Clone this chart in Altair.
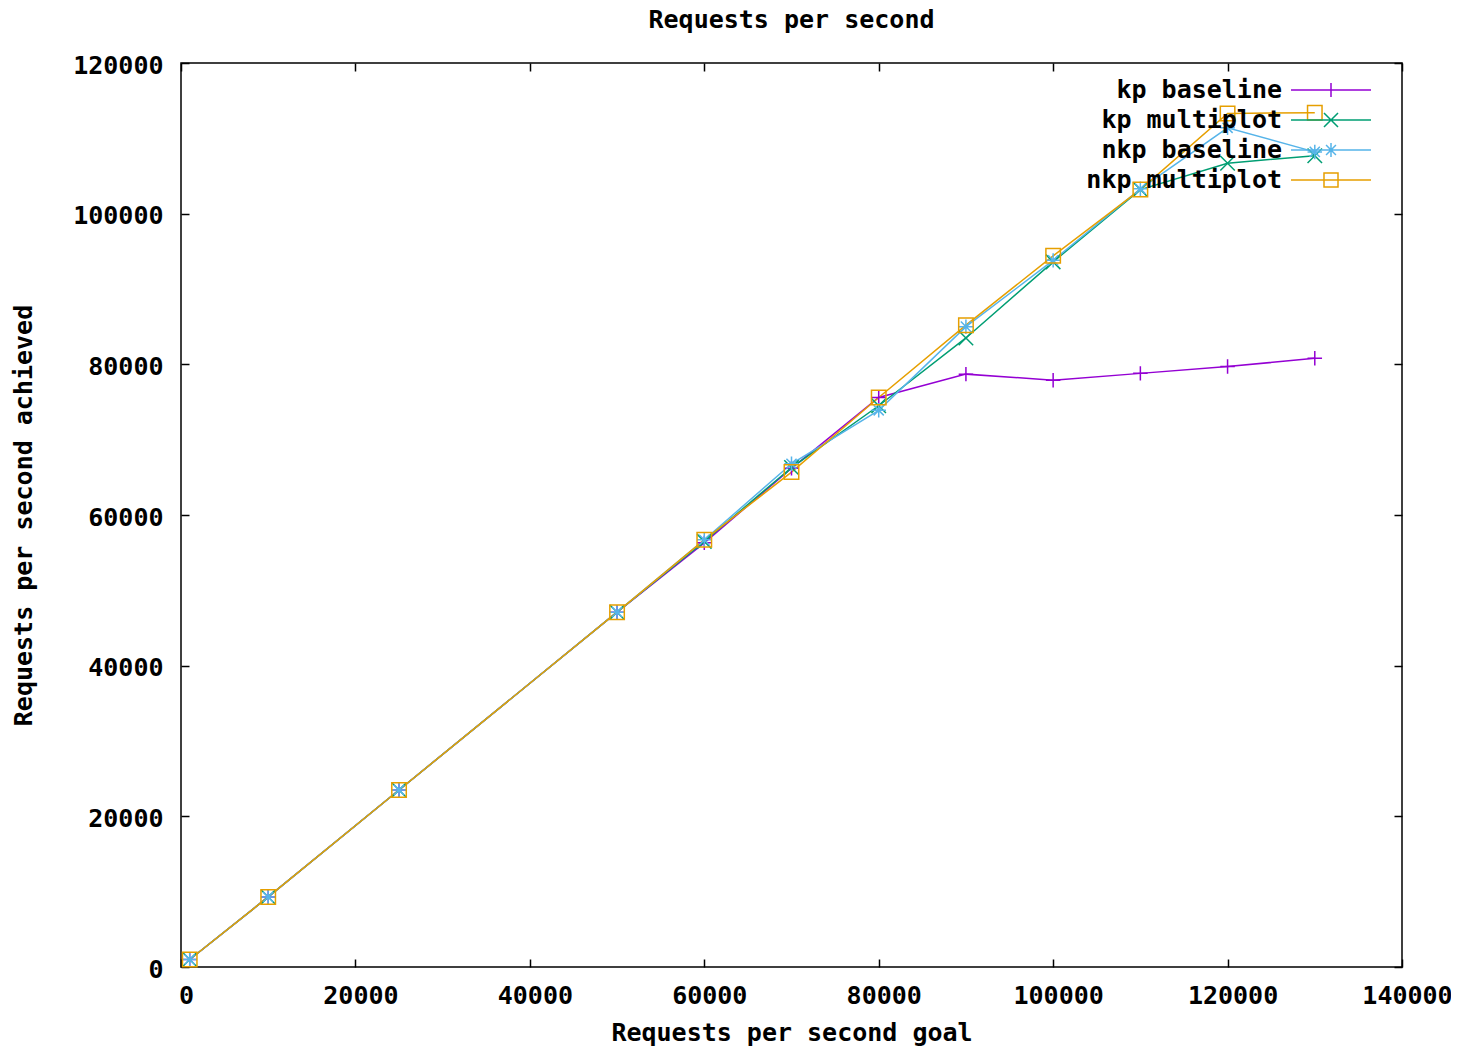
import altair as alt
import pandas as pd

# ---- data ----
goal = [1000, 10000, 25000, 50000, 60000, 70000, 80000, 90000, 100000, 110000, 120000, 130000]
kp_baseline = [1000, 9300, 23500, 47100, 56300, 66200, 75600, 78700, 77900, 78800, 79700, 80800]
kp_multiplot = [1000, 9300, 23500, 47100, 56500, 66300, 74500, 83500, 93600, 103200, 106700, 107700]
nkp_baseline = [1000, 9300, 23500, 47100, 56700, 66800, 73900, 85000, 93800, 103300, 111400, 108200]
nkp_multiplot = [1000, 9300, 23500, 47100, 56700, 65700, 75600, 85200, 94400, 103200, 113300, 113400]

series_names = ["kp baseline", "kp multiplot", "nkp baseline", "nkp multiplot"]
series_values = [kp_baseline, kp_multiplot, nkp_baseline, nkp_multiplot]
colors = ["#9400d3", "#009e73", "#56b4e9", "#e69f00"]

x_ticks = [0, 20000, 40000, 60000, 80000, 100000, 120000, 140000]
y_ticks = [0, 20000, 40000, 60000, 80000, 100000, 120000]

rows = []
for name, vals in zip(series_names, series_values):
    for g, v in zip(goal, vals):
        rows.append({"goal": g, "achieved": v, "series": name})
df = pd.DataFrame(rows)

FONT = "DejaVu Sans Mono"
FS = 25

# marker shapes (gnuplot point types 1..4)
marker_paths = [
    "M-1,0L1,0M0,-1L0,1",
    "M-1,-1L1,1M-1,1L1,-1",
    "M-1,0L1,0M0,-1L0,1M-0.7,-0.7L0.7,0.7M-0.7,0.7L0.7,-0.7",
    "M-1,-1L1,-1L1,1L-1,1Z",
]
# legend key samples: a line segment with the marker in its middle
L = 2.667   # half length of sample line (in symbol units, 1 unit = 15px)
m = 0.467   # half size of marker
s = 0.33
legend_paths = [
    f"M-{L},0L{L},0M0,-{m}L0,{m}",
    f"M-{L},0L{L},0M-{m},-{m}L{m},{m}M-{m},{m}L{m},-{m}",
    f"M-{L},0L{L},0M0,-{m}L0,{m}M-{s},-{s}L{s},{s}M-{s},{s}L{s},-{s}",
    f"M-{L},0L{L},0M-{m},-{m}L{m},-{m}L{m},{m}L-{m},{m}Z",
]

xscale = alt.Scale(domain=[0, 140000], nice=False, zero=False)
yscale = alt.Scale(domain=[0, 120000], nice=False, zero=False)
color_scale = alt.Scale(domain=series_names, range=colors)

axis_common = dict(
    domain=False, grid=False, tickSize=8, offset=-8, tickColor="black", tickWidth=1.5,
    labelFont=FONT, labelFontSize=FS, labelFontWeight="bold", labelColor="black",
    titleFont=FONT, titleFontSize=FS, titleFontWeight="bold", titleColor="black",
    labelFlush=False,
)

x_main = alt.X("goal:Q", scale=xscale,
               axis=alt.Axis(orient="bottom", values=x_ticks, title="Requests per second goal",
                             format="d", labelPadding=16, labelOffset=5, titlePadding=12,
                             **axis_common))
y_main = alt.Y("achieved:Q", scale=yscale,
               axis=alt.Axis(orient="left", values=y_ticks, title="Requests per second achieved",
                             format="d", labelPadding=18, labelOffset=2, titlePadding=36,
                             **axis_common))

x_plain = alt.X("goal:Q", scale=xscale, axis=None)
y_plain = alt.Y("achieved:Q", scale=yscale, axis=None)

lines = alt.Chart(df).mark_line(strokeWidth=1.5).encode(
    x=x_main, y=y_main,
    color=alt.Color("series:N", scale=color_scale, legend=None),
)

points = alt.Chart(df).mark_point(filled=False, strokeWidth=1.5, size=210, opacity=1).encode(
    x=x_plain, y=y_plain,
    color=alt.Color("series:N", scale=color_scale, legend=None),
    shape=alt.Shape("series:N", scale=alt.Scale(domain=series_names, range=marker_paths), legend=None),
)


def make_legend():
    return alt.Legend(
        title=None, orient="none", legendX=1134, legendY=11,
        labelAlign="right", labelOffset=alt.ExprRef(expr="-65"),
        labelFont=FONT, labelFontSize=FS, labelFontWeight="bold",
        labelColor="black", symbolSize=900, symbolStrokeWidth=1.5,
        rowPadding=1, padding=0, labelLimit=400,
    )


legend_layer = alt.Chart(df).transform_filter("datum.goal < 0").mark_point(
    filled=False, strokeWidth=1.5, size=900, opacity=1
).encode(
    x=x_plain, y=y_plain,
    color=alt.Color("series:N", scale=color_scale, legend=make_legend()),
    shape=alt.Shape("series:N", scale=alt.Scale(domain=series_names, range=legend_paths),
                    legend=make_legend()),
)

mirror = alt.Chart(df).mark_point(opacity=0).encode(
    x=alt.X("goal:Q", scale=xscale,
            axis=alt.Axis(orient="top", values=x_ticks, labels=False, title=None, **axis_common)),
    y=alt.Y("achieved:Q", scale=yscale,
            axis=alt.Axis(orient="right", values=y_ticks, labels=False, title=None, **axis_common)),
)

chart = alt.layer(lines, points, legend_layer, mirror).resolve_scale(
    x="independent", y="independent", shape="independent", color="independent"
).properties(
    width=1221, height=904,
    title=alt.TitleParams("Requests per second", font=FONT, fontSize=FS, fontWeight="bold",
                          color="black", anchor="middle", offset=20),
    autosize=alt.AutoSizeParams(type="none"),
    padding={"left": 173, "top": 55, "right": 49, "bottom": 79},
    background="white",
).configure_view(stroke="black", strokeWidth=1.5)

chart.save("out.html", embed_options={"renderer": "svg", "actions": False})
